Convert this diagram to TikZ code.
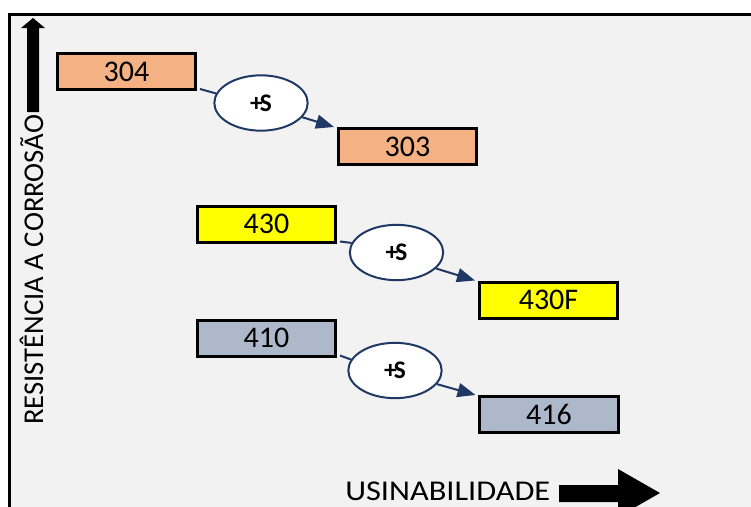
\documentclass[tikz,border=0pt]{standalone}
\usepackage{fontspec}
\setmainfont{Carlito}
\usetikzlibrary{arrows.meta,shapes.geometric}
\definecolor{bg}{HTML}{F2F2F2}
\definecolor{salmon}{HTML}{F4B183}
\definecolor{yel}{HTML}{FFFF00}
\definecolor{bluegray}{HTML}{ADB9CA}
\definecolor{navy}{HTML}{1F3864}
\begin{document}
\begin{tikzpicture}[x=0.75pt,y=-0.75pt,
  box/.style={draw=black,line width=2.25pt,minimum width=104pt,minimum height=27pt,inner sep=0pt,font=\fontsize{22.5}{24}\selectfont},
  sell/.style={ellipse,draw=navy,fill=white,line width=1.5pt,minimum width=70pt,minimum height=41.5pt,inner sep=0pt,font=\bfseries\fontsize{19}{20}\selectfont},
  conn/.style={draw=navy,line width=1.5pt},
  arr/.style={conn,-{Triangle[length=13.5pt,width=10.5pt]}},
  bigarrow/.style={fill=black}]
\useasboundingbox (0,0) rectangle (751,507);
\clip (0,0) rectangle (751,507);
\fill[white] (0,0) rectangle (751,507);
\draw[line width=2.25pt,fill=bg] (9.5,14.5) rectangle (770,530);

% vertical axis arrow
\fill[bigarrow] (27,112) -- (27,28) -- (21,28) -- (33,18) -- (45,28) -- (39,28) -- (39,112) -- cycle;
\node[rotate=90,anchor=base west,inner sep=0pt,font=\fontsize{21.5}{24}\selectfont] (ylab) at (43,425) {RESISTÊNCIA A CORROSÃO};

% horizontal axis
\node[anchor=base west,inner sep=0pt,font=\fontsize{21.5}{24}\selectfont] (xlab) at (345,500) {\scalebox{1.13}[1]{USINABILIDADE}};
\fill[bigarrow] (559,485) -- (618,485) -- (618,469) -- (660,493) -- (618,517) -- (618,502) -- (559,502) -- cycle;

% boxes
\node[box,fill=salmon] (b304) at (126.5,71.5) {304};
\node[box,fill=salmon] (b303) at (407.5,146.5) {303};
\node[box,fill=yel] (b430) at (266.5,224) {430};
\node[box,fill=yel] (b430F) at (548.5,300) {430F};
\node[box,fill=bluegray] (b410) at (266.5,338) {410};
\node[box,fill=bluegray] (b416) at (549,414.5) {416};

% ellipses
\node[sell] (e1) at (261,103) {+\kern-2pt S};
\node[sell] (e2) at (396.5,252.5) {+\kern-2pt S};
\node[sell] (e3) at (395,370.5) {+\kern-2pt S};

% connectors
\draw[conn] ([xshift=2pt,yshift=1.5pt]b304.south east) -- (e1.168);
\draw[arr] (e1.-19) -- ([xshift=-2pt]b303.north west);
\draw[conn] ([xshift=2pt,yshift=1.5pt]b430.south east) -- (e2.168);
\draw[arr] (e2.-22) -- ([xshift=-2pt]b430F.north west);
\draw[conn] ([xshift=2pt,yshift=1.5pt]b410.south east) -- (e3.166);
\draw[arr] (e3.-18) -- ([xshift=-2pt]b416.north west);
\end{tikzpicture}
\end{document}
